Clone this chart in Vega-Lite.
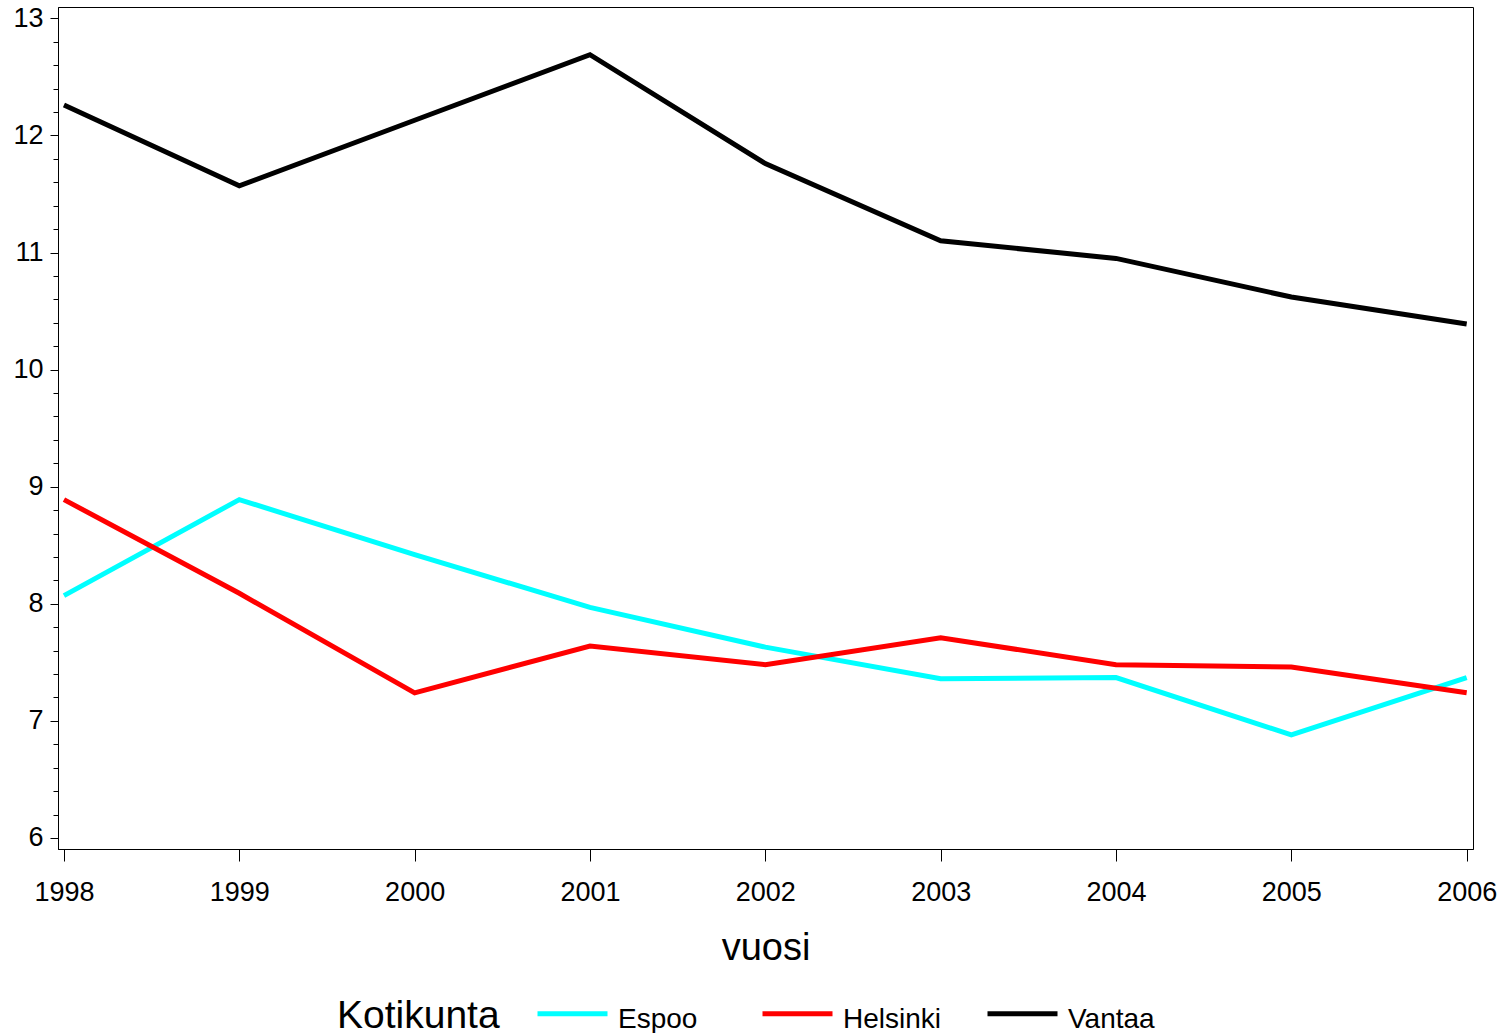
{
  "$schema": "https://vega.github.io/schema/vega-lite/v6.json",
  "width": 1415,
  "height": 842,
  "autosize": "none",
  "padding": {"left": 58, "top": 7, "right": 33, "bottom": 184},
  "background": "white",
  "config": {
    "view": {"stroke": "black", "strokeWidth": 1},
    "font": "Liberation Sans",
    "axis": {"domainColor": "black", "tickColor": "black", "labelColor": "black", "titleColor": "black", "grid": false, "domainWidth": 1, "tickWidth": 1}
  },
  "data": {"values": [
    {"vuosi": 1998, "Kotikunta": "Espoo", "arvo": 8.07},
    {"vuosi": 1999, "Kotikunta": "Espoo", "arvo": 8.89},
    {"vuosi": 2000, "Kotikunta": "Espoo", "arvo": 8.42},
    {"vuosi": 2001, "Kotikunta": "Espoo", "arvo": 7.97},
    {"vuosi": 2002, "Kotikunta": "Espoo", "arvo": 7.63},
    {"vuosi": 2003, "Kotikunta": "Espoo", "arvo": 7.36},
    {"vuosi": 2004, "Kotikunta": "Espoo", "arvo": 7.37},
    {"vuosi": 2005, "Kotikunta": "Espoo", "arvo": 6.88},
    {"vuosi": 2006, "Kotikunta": "Espoo", "arvo": 7.37},
    {"vuosi": 1998, "Kotikunta": "Helsinki", "arvo": 8.89},
    {"vuosi": 1999, "Kotikunta": "Helsinki", "arvo": 8.09},
    {"vuosi": 2000, "Kotikunta": "Helsinki", "arvo": 7.24},
    {"vuosi": 2001, "Kotikunta": "Helsinki", "arvo": 7.64},
    {"vuosi": 2002, "Kotikunta": "Helsinki", "arvo": 7.48},
    {"vuosi": 2003, "Kotikunta": "Helsinki", "arvo": 7.71},
    {"vuosi": 2004, "Kotikunta": "Helsinki", "arvo": 7.48},
    {"vuosi": 2005, "Kotikunta": "Helsinki", "arvo": 7.46},
    {"vuosi": 2006, "Kotikunta": "Helsinki", "arvo": 7.24},
    {"vuosi": 1998, "Kotikunta": "Vantaa", "arvo": 12.26},
    {"vuosi": 1999, "Kotikunta": "Vantaa", "arvo": 11.57},
    {"vuosi": 2000, "Kotikunta": "Vantaa", "arvo": 12.13},
    {"vuosi": 2001, "Kotikunta": "Vantaa", "arvo": 12.69},
    {"vuosi": 2002, "Kotikunta": "Vantaa", "arvo": 11.76},
    {"vuosi": 2003, "Kotikunta": "Vantaa", "arvo": 11.10},
    {"vuosi": 2004, "Kotikunta": "Vantaa", "arvo": 10.95},
    {"vuosi": 2005, "Kotikunta": "Vantaa", "arvo": 10.62},
    {"vuosi": 2006, "Kotikunta": "Vantaa", "arvo": 10.39}
  ]},
  "mark": {"type": "line", "strokeWidth": 5, "strokeJoin": "miter"},
  "encoding": {
    "x": {"field": "vuosi", "type": "quantitative",
      "scale": {"domain": [1997.966, 2006.036], "nice": false, "zero": false},
      "axis": {"values": [1998, 1999, 2000, 2001, 2002, 2003, 2004, 2005, 2006], "format": "d",
        "tickSize": 12, "labelFontSize": 27, "labelPadding": 18, "title": "vuosi",
        "titleFontSize": 38, "titleFontWeight": "normal", "titlePadding": 24, "labelFlush": false, "labelOverlap": false}},
    "y": {"field": "arvo", "type": "quantitative",
      "scale": {"domain": [5.906, 13.097], "nice": false, "zero": false},
      "axis": {"values": [6, 6.2, 6.4, 6.6, 6.8, 7, 7.2, 7.4, 7.6, 7.8, 8, 8.2, 8.4, 8.6, 8.8, 9, 9.2, 9.4, 9.6, 9.8, 10, 10.2, 10.4, 10.6, 10.8, 11, 11.2, 11.4, 11.6, 11.8, 12, 12.2, 12.4, 12.6, 12.8, 13],
        "format": ".1f",
        "labelExpr": "abs(datum.value - round(datum.value)) < 0.01 ? format(datum.value, 'd') : ''",
        "tickSize": {"condition": {"test": "abs(datum.value - round(datum.value)) < 0.01", "value": 8}, "value": 5},
        "labelFontSize": 27, "labelPadding": 7, "title": null, "labelFlush": false, "labelOverlap": false}},
    "color": {"field": "Kotikunta", "type": "nominal",
      "scale": {"domain": ["Espoo", "Helsinki", "Vantaa"], "range": ["#00ffff", "#ff0000", "#000000"]},
      "legend": {"orient": "none", "legendX": 279, "legendY": 969, "direction": "horizontal",
        "titleOrient": "left", "titleAnchor": "middle", "titleBaseline": "middle", "titleFontSize": 39, "titleFontWeight": "normal", "titleLimit": 400,
        "titleColor": "black", "titlePadding": 35, "labelFontSize": 28, "labelLimit": 300,
        "labelColor": "black", "symbolType": "stroke", "symbolSize": 4900, "symbolStrokeWidth": 5,
        "gridAlign": "all", "columnPadding": 35, "labelOffset": 8,
        "encode": {"title": {"update": {"dy": {"value": 11}}}, "labels": {"update": {"dy": {"value": 6}}}}}}
  }
}
